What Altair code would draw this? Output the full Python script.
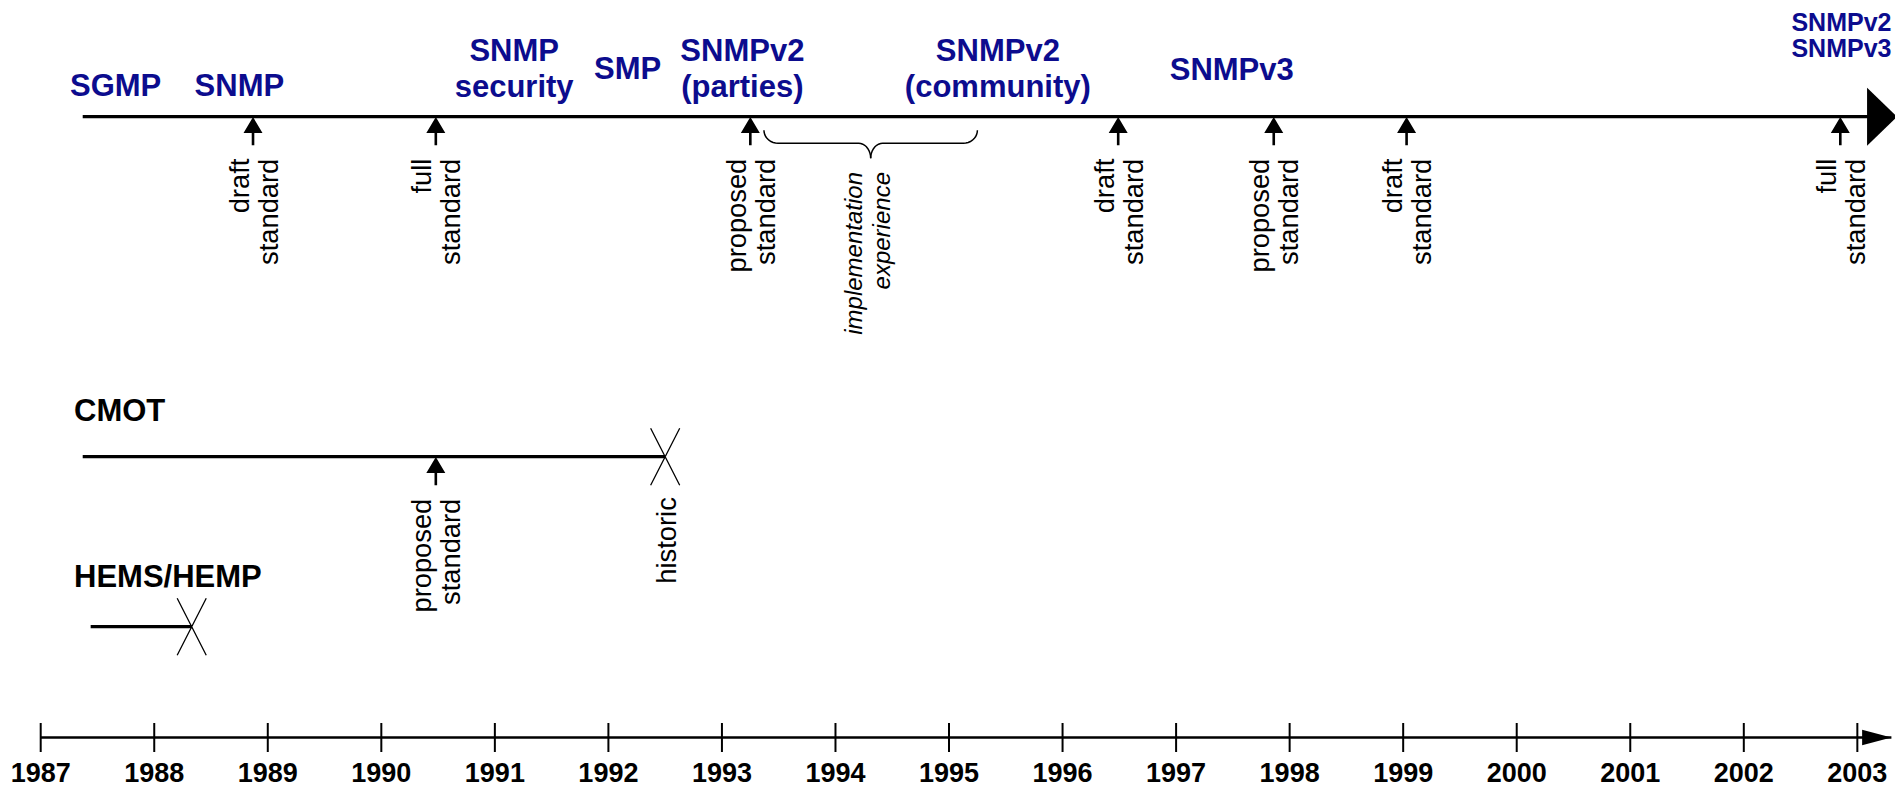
import altair as alt
import pandas as pd
import numpy as np

# ------------------------------------------------------------------ data
YEARS = list(range(1987, 2004))

TRACKS = ["SNMP", "CMOT", "HEMS/HEMP"]
TRACK_START = [1987.37, 1987.37, 1987.44]
TRACK_END = [2003.35, 1992.50, 1988.33]
TRACK_OPEN = [True, False, False]          # open track continues (arrow), closed ones end (X)
TRACK_TITLE = ["", "CMOT", "HEMS/HEMP"]
TRACK_END_LABEL = ["", "historic", ""]

PROTO_NAMES = ["SGMP", "SNMP", "SNMP\nsecurity", "SMP", "SNMPv2\n(parties)",
               "SNMPv2\n(community)", "SNMPv3"]
PROTO_YEARS = [1987.66, 1988.75, 1991.17, 1992.17, 1993.18, 1995.43, 1997.49]
CURRENT_NAMES = ["SNMPv2\nSNMPv3"]
CURRENT_YEARS = [2002.86]

MS_TRACK = ["SNMP", "SNMP", "SNMP", "SNMP", "SNMP", "SNMP", "SNMP", "CMOT"]
MS_YEARS = [1988.87, 1990.48, 1993.25, 1996.49, 1997.86, 1999.03, 2002.85, 1990.48]
MS_STATUS = ["draft\nstandard", "full\nstandard", "proposed\nstandard", "draft\nstandard",
             "proposed\nstandard", "draft\nstandard", "full\nstandard", "proposed\nstandard"]

BRACE_FROM = 1993.37
BRACE_TO = 1995.25
BRACE_LABEL = "implementation\nexperience"

# ------------------------------------------------------------------ layout / style
W, H = 1887, 780
PX_PER_YEAR = 113.54
X0 = 1987 - 32.7 / PX_PER_YEAR
X1 = X0 + W / PX_PER_YEAR
TRACK_Y = {"SNMP": 108.7, "CMOT": 448.7, "HEMS/HEMP": 618.7}
TITLE_DY = {"CMOT": -36.2, "HEMS/HEMP": -40.0}
AXIS_Y = 729.5
YEAR_LABEL_Y = 774.0
PROTO_FIRST_BASELINE = [87.5, 87.5, 53, 71, 53, 53, 72]
CURRENT_FIRST_BASELINE = [23.0]
FONT = "Liberation Sans, Arial, Helvetica, sans-serif"
BLUE = "#0c0c8e"

XS = alt.Scale(domain=[X0, X1], nice=False, zero=False)


def X(field):
    return alt.X(field, type="quantitative", scale=XS, axis=None)


def Y(field):
    return alt.Y(field, type="quantitative", scale=None, axis=None)


# tracks
tracks = pd.DataFrame({"track": TRACKS, "x0": TRACK_START, "x1": TRACK_END,
                       "open": TRACK_OPEN, "title": TRACK_TITLE, "endlab": TRACK_END_LABEL})
tracks["py"] = tracks["track"].map(TRACK_Y)
tracks["x1line"] = np.where(tracks["open"], tracks["x1"] - 12 / PX_PER_YEAR, tracks["x1"])

track_lines = alt.Chart(tracks).mark_rule(color="black", strokeWidth=3.2, strokeCap="butt").encode(
    x=X("x0"), x2="x1line", y=Y("py"))

big_arrow = alt.Chart(tracks[tracks["open"]]).mark_point(
    shape="M -1.034 -1 L 0 0 L -1.034 1 Z", size=58 * 58, filled=True, color="black",
    opacity=1, strokeWidth=0).encode(x=X("x1"), y=Y("py"))

closed = tracks[~tracks["open"]]
x_marks = alt.Chart(closed).mark_point(
    shape="M -0.51 -1 L 0.51 1 M 0.51 -1 L -0.51 1", size=57 * 57, filled=False,
    color="black", opacity=1, strokeWidth=1.3).encode(x=X("x1"), y=Y("py"))

end_labels_df = closed[closed["endlab"] != ""].copy()
end_labels_df["ly"] = end_labels_df["py"] + 40.5
end_labels = alt.Chart(end_labels_df).mark_text(
    font=FONT, fontSize=27.3, angle=270, align="right", baseline="middle", dy=2.5,
    color="black").encode(x=X("x1"), y=Y("ly"), text="endlab:N")

titles_df = tracks[tracks["title"] != ""].copy()
titles_df["ty"] = titles_df["py"] + titles_df["track"].map(TITLE_DY)
titles = alt.Chart(titles_df).mark_text(
    font=FONT, fontSize=31, fontWeight="bold", align="left", baseline="alphabetic",
    color="black").encode(x=alt.value(66), y=Y("ty"), text="title:N")

# protocol names
proto = pd.DataFrame({"name": PROTO_NAMES, "year": PROTO_YEARS, "ty": PROTO_FIRST_BASELINE})
proto_text = alt.Chart(proto).mark_text(
    font=FONT, fontSize=31, fontWeight="bold", align="center", baseline="alphabetic",
    lineBreak="\n", lineHeight=36, color=BLUE).encode(x=X("year"), y=Y("ty"), text="name:N")

current = pd.DataFrame({"name": CURRENT_NAMES, "year": CURRENT_YEARS, "ty": CURRENT_FIRST_BASELINE})
current_text = alt.Chart(current).mark_text(
    font=FONT, fontSize=25, fontWeight="bold", align="center", baseline="alphabetic",
    lineBreak="\n", lineHeight=25.5, color=BLUE).encode(x=X("year"), y=Y("ty"), text="name:N")

# milestones
ms = pd.DataFrame({"track": MS_TRACK, "year": MS_YEARS, "status": MS_STATUS})
ms["py"] = ms["track"].map(TRACK_Y)
ms["ay"] = ms["py"] + 14.45
ms["ly"] = ms["py"] + 42.0
ms_arrows = alt.Chart(ms).mark_point(
    shape="M 0 -1 L 0.671 0.131 L 0.092 0.131 L 0.092 1 L -0.092 1 L -0.092 0.131 L -0.671 0.131 Z",
    size=28.3 * 28.3, filled=True, color="black", opacity=1, strokeWidth=0).encode(
    x=X("year"), y=Y("ay"))
ms_text = alt.Chart(ms).mark_text(
    font=FONT, fontSize=27.3, angle=270, align="right", baseline="middle", dy=-12.5,
    lineBreak="\n", lineHeight=29, color="black").encode(x=X("year"), y=Y("ly"), text="status:N")

# brace (geometry derived from the span)
ty0 = TRACK_Y["SNMP"]
y_end, y_h, y_tip = ty0 + 13.5, ty0 + 26.6, ty0 + 41.6
rx1, rx2 = 14.0, 12.0
mid = (BRACE_FROM + BRACE_TO) / 2
rows = []
th = np.linspace(0, np.pi / 2, 10)
for side, start, sign in (("L", BRACE_FROM, 1), ("R", BRACE_TO, -1)):
    i = 0
    for t in th:
        rows.append({"side": side, "i": i, "bx": start + sign * rx1 * (1 - np.cos(t)) / PX_PER_YEAR,
                     "by": y_end + (y_h - y_end) * np.sin(t)})
        i += 1
    for t in th:
        rows.append({"side": side, "i": i,
                     "bx": mid - sign * (rx2 - rx2 * np.sin(t)) / PX_PER_YEAR,
                     "by": y_tip - (y_tip - y_h) * np.cos(t)})
        i += 1
brace_df = pd.DataFrame(rows)
brace = alt.Chart(brace_df).mark_line(color="black", strokeWidth=1.5).encode(
    x=X("bx"), y=Y("by"), detail="side:N", order="i:Q")
brace_lab = alt.Chart(pd.DataFrame({"year": [mid], "lab": [BRACE_LABEL], "ly": [ty0 + 55.3]})).mark_text(
    font=FONT, fontSize=24, fontStyle="italic", angle=270, align="right", baseline="middle",
    dy=-15.5, lineBreak="\n", lineHeight=28, color="black").encode(x=X("year"), y=Y("ly"), text="lab:N")

# time axis
axis_df = pd.DataFrame({"x0": [YEARS[0]], "x1": [YEARS[-1] + 0.30], "py": [AXIS_Y]})
axis_line = alt.Chart(axis_df).mark_rule(color="black", strokeWidth=2.7).encode(
    x=X("x0"), x2="x1", y=Y("py"))
axis_arrow = alt.Chart(axis_df).mark_point(
    shape="M -1.953 -0.513 L 0 0 L -1.953 0.513 Z", size=900, filled=True, color="black",
    opacity=1, strokeWidth=0).encode(x=X("x1"), y=Y("py"))
yrs = pd.DataFrame({"year": YEARS})
yrs["t0"] = AXIS_Y - 14.5
yrs["t1"] = AXIS_Y + 14.5
yrs["ly"] = YEAR_LABEL_Y
yrs["lab"] = yrs["year"].astype(str)
ticks = alt.Chart(yrs).mark_rule(color="black", strokeWidth=2).encode(
    x=X("year"), y=Y("t0"), y2="t1")
year_labels = alt.Chart(yrs).mark_text(
    font=FONT, fontSize=27, fontWeight="bold", align="center", baseline="alphabetic",
    color="black").encode(x=X("year"), y=Y("ly"), text="lab:N")

chart = alt.layer(
    track_lines, big_arrow, x_marks, end_labels, titles, proto_text, current_text,
    ms_arrows, ms_text, brace, brace_lab, axis_line, axis_arrow, ticks, year_labels
).properties(
    width=W, height=H, padding=0, autosize=alt.AutoSizeParams(type="none")
).configure_view(stroke=None)

chart.save("out.html", embed_options={"renderer": "svg", "actions": False})
